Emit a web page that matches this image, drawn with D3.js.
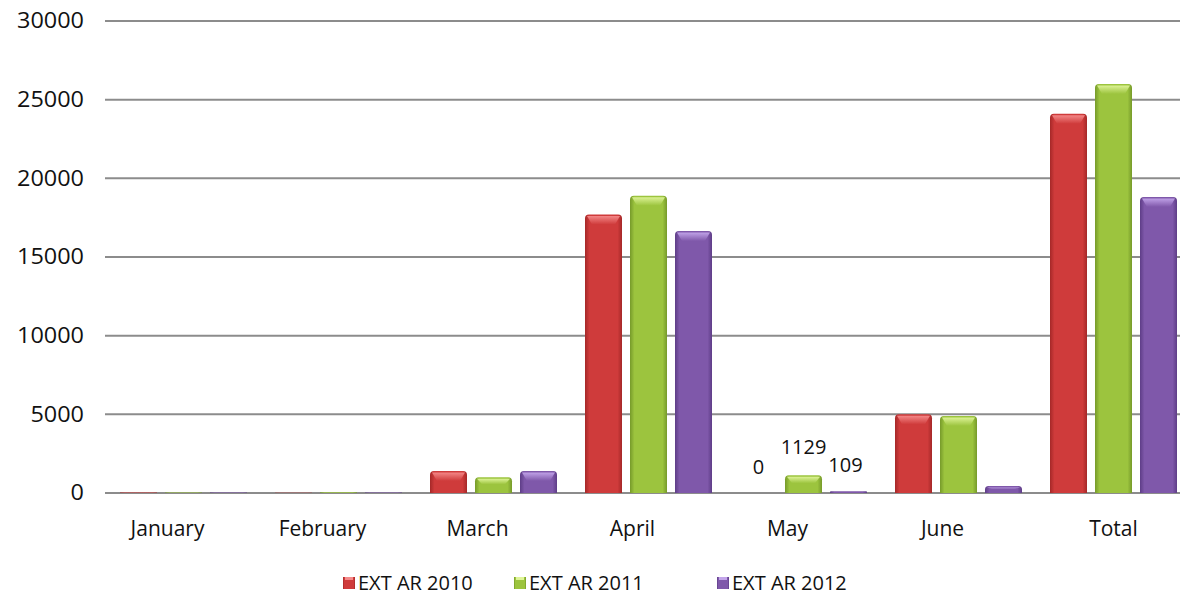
<!DOCTYPE html>
<html><head><meta charset="utf-8">
<script src="https://cdn.jsdelivr.net/npm/d3@7"></script>
<style>body{margin:0;background:#fff}svg{display:block}</style>
</head><body>
<svg id="c" width="1180" height="600"></svg>
<script>
const categories = ["January","February","March","April","May","June","Total"];
const seriesNames = ["EXT AR 2010","EXT AR 2011","EXT AR 2012"];
const ext2010 = [30, 20, 1400, 17700, 0, 5000, 24100];
const ext2011 = [30, 40, 1000, 18900, 1129, 4900, 26000];
const ext2012 = [30, 30, 1400, 16650, 109, 450, 18820];
const yTicks = [0,5000,10000,15000,20000,25000,30000];
const mayLabels = ["0","1129","109"];
const colors = [
  {base:"#cf3b3b", dark:"#a52828", light:"#f58a8a"},
  {base:"#9cc43e", dark:"#769a2a", light:"#e0f59a"},
  {base:"#7f58aa", dark:"#5e3d87", light:"#c3a5ea"}
];
const series = [ext2010, ext2011, ext2012];

(function(){
const svg = d3.select("#c");
const FONT = "Open Sans, sans-serif";
const left = 106, bandW = 155, plotTop = 21, bottom = 493;
const x = d3.scaleBand().domain(categories).range([left, left + bandW*categories.length]).paddingInner(0).paddingOuter(0);
const y = d3.scaleLinear().domain([0,30000]).range([bottom, plotTop]);
const barW = 37, gap = 8;
const xs = d3.scaleBand().domain([0,1,2]).range([0, barW*3+gap*2]).paddingInner(gap/(barW+gap));

const defs = svg.append("defs");
colors.forEach((c,i)=>{
  const g = defs.append("linearGradient").attr("id","g"+i).attr("x1","0").attr("x2","1").attr("y1","0").attr("y2","0");
  g.append("stop").attr("offset","0").attr("stop-color",c.dark);
  g.append("stop").attr("offset","0.12").attr("stop-color",c.base);
  g.append("stop").attr("offset","0.5").attr("stop-color",c.base);
  g.append("stop").attr("offset","0.88").attr("stop-color",c.base);
  g.append("stop").attr("offset","1").attr("stop-color",c.dark);
  const h = defs.append("linearGradient").attr("id","h"+i).attr("x1","0").attr("x2","0").attr("y1","0").attr("y2","1");
  h.append("stop").attr("offset","0").attr("stop-color",c.light);
  h.append("stop").attr("offset","1").attr("stop-color",c.base);
});

// gridlines
svg.append("g").selectAll("line").data(yTicks).join("line")
  .attr("x1", left-1).attr("x2", 1180).attr("y1", d=>y(d)).attr("y2", d=>y(d))
  .attr("stroke","#8c8c8c").attr("stroke-width",2);

// y labels
const yAxis = d3.axisLeft(y).tickValues(yTicks).tickSize(0).tickPadding(0).tickFormat(d3.format("d"));
const ya = svg.append("g").attr("transform","translate(84,0)").call(yAxis);
ya.select(".domain").remove();
ya.selectAll("text").attr("font-family",FONT).attr("font-size",21).attr("fill","#111")
  .attr("textLength",(d)=>String(d).length*13.4).attr("lengthAdjust","spacingAndGlyphs");

// bars
const offs = (bandW - (barW*3+gap*2))/2;
const groups = svg.append("g").selectAll("g").data(categories).join("g")
  .attr("transform", d=>`translate(${x(d) + offs},0)`);
groups.each(function(cat, ci){
  const gsel = d3.select(this);
  series.forEach((s, si)=>{
    const v = s[ci];
    const bx = xs(si), by = y(v), bh = bottom - by;
    if (bh <= 0) return;
    const r = Math.min(4, bh/2);
    gsel.append("path")
      .attr("d", `M${bx},${bottom} L${bx},${by+r} Q${bx},${by} ${bx+r},${by} L${bx+barW-r},${by} Q${bx+barW},${by} ${bx+barW},${by+r} L${bx+barW},${bottom} Z`)
      .attr("fill", `url(#g${si})`);
    const capH = Math.min(10, bh*0.45);
    if (capH > 2) {
      gsel.append("path")
        .attr("d", `M${bx+2},${by+1.5} L${bx+barW-2},${by+1.5} L${bx+barW-7},${by+capH} L${bx+7},${by+capH} Z`)
        .attr("fill", `url(#h${si})`).attr("opacity",0.95);
    }
  });
});

// May data labels
const mayIdx = categories.indexOf("May");
const mx = x("May") + offs;
const labelDy = [-19, -21, -19];
const labelDx = [0, 0, -3];
mayLabels.forEach((t, si)=>{
  const v = series[si][mayIdx];
  svg.append("text").attr("x", mx + xs(si) + barW/2 + labelDx[si]).attr("y", y(v) + labelDy[si])
    .attr("text-anchor","middle").attr("font-family",FONT).attr("font-size",20).attr("fill","#111")
    .text(t);
});

// category labels
svg.append("g").selectAll("text").data(categories).join("text")
  .attr("x", d=>x(d) + bandW/2 - (d==="Total" ? 0 : 16)).attr("y", 536)
  .attr("text-anchor","middle").attr("font-family",FONT).attr("font-size",21).attr("fill","#111")
  .text(d=>d);

// legend
const legX = [343, 514, 717];
const lg = svg.append("g").selectAll("g").data(seriesNames).join("g")
  .attr("transform",(d,i)=>`translate(${legX[i]},577)`);
lg.append("rect").attr("width",12).attr("height",12).attr("fill",(d,i)=>`url(#g${i})`);
lg.append("rect").attr("x",2).attr("width",8).attr("height",3).attr("fill",(d,i)=>colors[i].light);
lg.append("text").attr("x",15).attr("y",13).attr("font-family",FONT).attr("font-size",20).attr("fill","#111").text(d=>d);
})();
</script>
</body></html>
